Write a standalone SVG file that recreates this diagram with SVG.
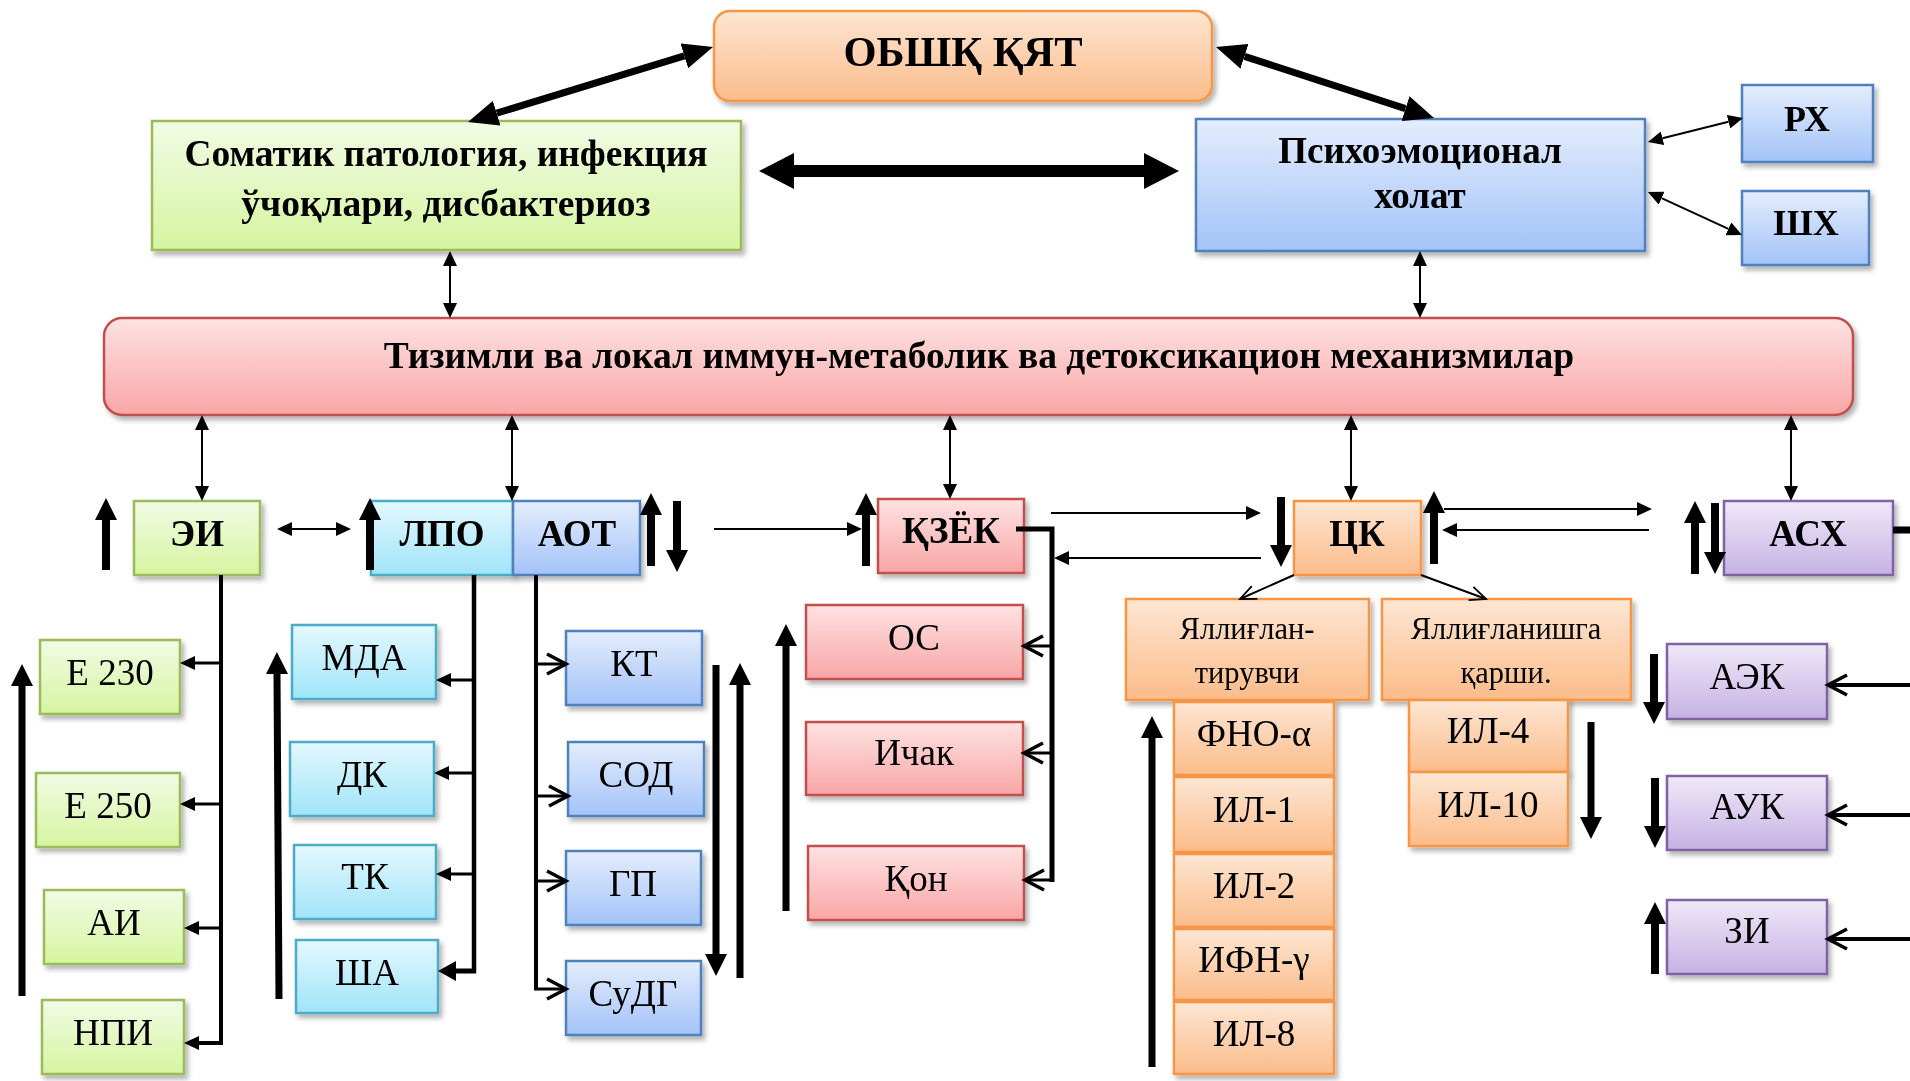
<svg xmlns="http://www.w3.org/2000/svg" width="1910" height="1081" viewBox="0 0 1910 1081">
<defs>
<style>
.t{font-family:"Liberation Serif","Times New Roman",serif;fill:#000;text-anchor:middle}
.b{font-weight:bold}
.r36{font-size:37px}
.b37{font-size:37px;font-weight:bold}
.sm{font-size:30.5px}
.box{filter:url(#sh)}
.or{fill:url(#gO);stroke:#f79646;stroke-width:2.5}
.gr{fill:url(#gG);stroke:#9bbb59;stroke-width:2.5}
.bl{fill:url(#gB);stroke:#4f81bd;stroke-width:2.5}
.cy{fill:url(#gC);stroke:#4bacc6;stroke-width:2.5}
.pk{fill:url(#gP);stroke:#c0504d;stroke-width:2.5}
.pu{fill:url(#gU);stroke:#8064a2;stroke-width:2.5}
</style>
<filter id="sh" x="-10%" y="-10%" width="125%" height="130%"><feDropShadow dx="3" dy="4" stdDeviation="2.5" flood-color="#000" flood-opacity="0.3"/></filter>
<linearGradient id="gO" x1="0" y1="0" x2="0" y2="1"><stop offset="0" stop-color="#fde6d3"/><stop offset="1" stop-color="#fbbc8a"/></linearGradient>
<linearGradient id="gG" x1="0" y1="0" x2="0" y2="1"><stop offset="0" stop-color="#f2fbe5"/><stop offset="1" stop-color="#d5f5a0"/></linearGradient>
<linearGradient id="gB" x1="0" y1="0" x2="0" y2="1"><stop offset="0" stop-color="#e4edfd"/><stop offset="1" stop-color="#a3c3f8"/></linearGradient>
<linearGradient id="gC" x1="0" y1="0" x2="0" y2="1"><stop offset="0" stop-color="#e4f8fe"/><stop offset="1" stop-color="#a0e4f9"/></linearGradient>
<linearGradient id="gP" x1="0" y1="0" x2="0" y2="1"><stop offset="0" stop-color="#fee2e2"/><stop offset="1" stop-color="#f9a6a6"/></linearGradient>
<linearGradient id="gU" x1="0" y1="0" x2="0" y2="1"><stop offset="0" stop-color="#efe8f8"/><stop offset="1" stop-color="#c6b2e4"/></linearGradient>
<marker id="mT" markerUnits="userSpaceOnUse" orient="auto-start-reverse" markerWidth="15" markerHeight="14" viewBox="0 0 15 14" refX="0" refY="7"><path d="M0,0 L15,7 L0,14z" fill="#000"/></marker>
<marker id="mS" markerUnits="userSpaceOnUse" orient="auto-start-reverse" markerWidth="18" markerHeight="20" viewBox="0 0 18 20" refX="0" refY="10"><path d="M0,0 L18,10 L0,20z" fill="#000"/></marker>
<marker id="mB" markerUnits="userSpaceOnUse" orient="auto-start-reverse" markerWidth="22" markerHeight="22" viewBox="0 0 22 22" refX="0" refY="11"><path d="M0,0 L22,11 L0,22z" fill="#000"/></marker>
<marker id="mK" markerUnits="userSpaceOnUse" orient="auto-start-reverse" markerWidth="30" markerHeight="26" viewBox="0 0 30 26" refX="0" refY="13"><path d="M0,0 L30,13 L0,26z" fill="#000"/></marker>
<marker id="mH" markerUnits="userSpaceOnUse" orient="auto-start-reverse" markerWidth="35" markerHeight="36" viewBox="0 0 35 36" refX="0" refY="18"><path d="M0,0 L35,18 L0,36z" fill="#000"/></marker>
<marker id="mC" markerUnits="userSpaceOnUse" orient="auto" markerWidth="24" markerHeight="24" viewBox="0 0 24 24" refX="21" refY="12" overflow="visible"><path d="M2,2 L21,12 L2,22" fill="none" stroke="#000" stroke-width="3.5"/></marker>
<marker id="mCs" markerUnits="userSpaceOnUse" orient="auto" markerWidth="18" markerHeight="16" viewBox="0 0 18 16" refX="17" refY="8" overflow="visible"><path d="M1,1 L17,8 L1,15" fill="none" stroke="#000" stroke-width="1.8"/></marker>
</defs>
<rect width="1910" height="1081" fill="#fff"/>

<g id="n-obshk" class="box"><rect x="714" y="11" width="498" height="90" rx="16" class="or"/><text x="963" y="66" class="t b" font-size="42.5">ОБШҚ ҚЯТ</text></g>
<g id="n-somatic" class="box"><rect x="152" y="121" width="589" height="129" class="gr"/><text x="446" y="166" class="t b" font-size="37.5">Соматик патология, инфекция</text><text x="446" y="216" class="t b" font-size="37.5">ўчоқлари, дисбактериоз</text></g>
<g id="n-psycho" class="box"><rect x="1196" y="119" width="449" height="132" class="bl"/><text x="1420" y="163" class="t b" font-size="37">Психоэмоционал</text><text x="1420" y="208" class="t b" font-size="37">холат</text></g>
<g id="n-rx" class="box"><rect x="1742" y="85" width="131" height="77" class="bl"/><text x="1807" y="131" class="t b" font-size="36">РХ</text></g>
<g id="n-shx" class="box"><rect x="1742" y="191" width="127" height="74" class="bl"/><text x="1806" y="235" class="t b" font-size="36">ШХ</text></g>
<g id="n-system" class="box"><rect x="104" y="318" width="1749" height="97" rx="18" class="pk"/><text x="979" y="368" class="t b" font-size="37.5">Тизимли ва локал иммун-метаболик ва детоксикацион механизмилар</text></g>

<g id="n-ei" class="box"><rect x="134" y="501" width="126" height="74" class="gr"/><text x="197" y="546" class="t b37">ЭИ</text></g>
<g id="n-lpo" class="box"><rect x="371" y="501" width="142" height="74" class="cy"/><text x="442" y="546" class="t b37">ЛПО</text></g>
<g id="n-aot" class="box"><rect x="513" y="501" width="127" height="74" class="bl"/><text x="577" y="546" class="t b37">АОТ</text></g>
<g id="n-kzek" class="box"><rect x="878" y="499" width="146" height="74" class="pk"/><text x="951" y="543" class="t b37">ҚЗЁК</text></g>
<g id="n-ck" class="box"><rect x="1294" y="501" width="127" height="74" class="or"/><text x="1357" y="546" class="t b37">ЦК</text></g>
<g id="n-asx" class="box"><rect x="1724" y="501" width="169" height="74" class="pu"/><text x="1808" y="546" class="t b37">АСХ</text></g>

<g id="n-e230" class="box"><rect x="40" y="640" width="140" height="74" class="gr"/><text x="110" y="685" class="t r36">Е 230</text></g>
<g id="n-e250" class="box"><rect x="36" y="773" width="144" height="74" class="gr"/><text x="108" y="818" class="t r36">Е 250</text></g>
<g id="n-ai" class="box"><rect x="44" y="890" width="140" height="74" class="gr"/><text x="114" y="935" class="t r36">АИ</text></g>
<g id="n-npi" class="box"><rect x="42" y="1000" width="142" height="74" class="gr"/><text x="113" y="1045" class="t r36">НПИ</text></g>

<g id="n-mda" class="box"><rect x="292" y="625" width="144" height="74" class="cy"/><text x="364" y="670" class="t r36">МДА</text></g>
<g id="n-dk" class="box"><rect x="290" y="742" width="144" height="74" class="cy"/><text x="362" y="787" class="t r36">ДК</text></g>
<g id="n-tk" class="box"><rect x="294" y="845" width="142" height="74" class="cy"/><text x="365" y="889" class="t r36">ТК</text></g>
<g id="n-sha" class="box"><rect x="296" y="940" width="142" height="73" class="cy"/><text x="367" y="985" class="t r36">ША</text></g>

<g id="n-kt" class="box"><rect x="566" y="631" width="136" height="74" class="bl"/><text x="634" y="676" class="t r36">КТ</text></g>
<g id="n-sod" class="box"><rect x="568" y="742" width="136" height="74" class="bl"/><text x="636" y="787" class="t r36">СОД</text></g>
<g id="n-gp" class="box"><rect x="566" y="851" width="135" height="74" class="bl"/><text x="633" y="896" class="t r36">ГП</text></g>
<g id="n-sudg" class="box"><rect x="566" y="961" width="135" height="74" class="bl"/><text x="633" y="1006" class="t r36">СуДГ</text></g>

<g id="n-os" class="box"><rect x="806" y="605" width="217" height="74" class="pk"/><text x="914" y="650" class="t r36">ОС</text></g>
<g id="n-ichak" class="box"><rect x="806" y="722" width="217" height="73" class="pk"/><text x="914" y="765" class="t r36">Ичак</text></g>
<g id="n-kon" class="box"><rect x="808" y="846" width="216" height="74" class="pk"/><text x="916" y="891" class="t r36">Қон</text></g>

<g id="n-pro" class="box"><rect x="1126" y="599" width="243" height="101" class="or"/><text x="1247" y="639" class="t sm">Яллиғлан-</text><text x="1247" y="683" class="t sm">тирувчи</text></g>
<g id="n-anti" class="box"><rect x="1382" y="599" width="249" height="101" class="or"/><text x="1506" y="639" class="t sm">Яллиғланишга</text><text x="1506" y="683" class="t sm">қарши.</text></g>

<g id="n-tnf" class="box"><rect x="1174" y="702" width="160" height="73" class="or"/><text x="1254" y="746" class="t r36">ФНО-α</text></g>
<g id="n-il1" class="box"><rect x="1174" y="777" width="160" height="75" class="or"/><text x="1254" y="822" class="t r36">ИЛ-1</text></g>
<g id="n-il2" class="box"><rect x="1174" y="854" width="160" height="73" class="or"/><text x="1254" y="898" class="t r36">ИЛ-2</text></g>
<g id="n-ifn" class="box"><rect x="1174" y="929" width="160" height="71" class="or"/><text x="1254" y="972" class="t r36">ИФН-γ</text></g>
<g id="n-il8" class="box"><rect x="1174" y="1002" width="160" height="72" class="or"/><text x="1254" y="1046" class="t r36">ИЛ-8</text></g>

<g id="n-il4" class="box"><rect x="1409" y="700" width="159" height="72" class="or"/><text x="1488" y="743" class="t r36">ИЛ-4</text></g>
<g id="n-il10" class="box"><rect x="1409" y="772" width="159" height="74" class="or"/><text x="1488" y="817" class="t r36">ИЛ-10</text></g>

<g id="n-aek" class="box"><rect x="1667" y="644" width="160" height="75" class="pu"/><text x="1747" y="689" class="t r36">АЭК</text></g>
<g id="n-auk" class="box"><rect x="1667" y="776" width="160" height="74" class="pu"/><text x="1747" y="819" class="t r36">АУК</text></g>
<g id="n-zi" class="box"><rect x="1667" y="900" width="160" height="74" class="pu"/><text x="1747" y="943" class="t r36">ЗИ</text></g>

<g id="connectors" fill="none" stroke="#000">
  <line x1="684.3" y1="55.8" x2="496.7" y2="113.2" stroke-width="7" marker-start="url(#mK)" marker-end="url(#mK)"/>
  <line x1="1244.5" y1="56.3" x2="1405.5" y2="108.7" stroke-width="7" marker-start="url(#mK)" marker-end="url(#mK)"/>
  <line x1="794" y1="171" x2="1144" y2="171" stroke-width="12" marker-start="url(#mH)" marker-end="url(#mH)"/>
  <g stroke-width="2">
    <line x1="1662.5" y1="138.3" x2="1728.5" y2="121.7" marker-start="url(#mT)" marker-end="url(#mT)"/>
    <line x1="1661.6" y1="198.2" x2="1728.4" y2="228.8" marker-start="url(#mT)" marker-end="url(#mT)"/>
    <line x1="450" y1="266" x2="450" y2="303" marker-start="url(#mT)" marker-end="url(#mT)"/>
    <line x1="1420" y1="266" x2="1420" y2="303" marker-start="url(#mT)" marker-end="url(#mT)"/>
    <line x1="202" y1="430" x2="202" y2="486" marker-start="url(#mT)" marker-end="url(#mT)"/>
    <line x1="512" y1="430" x2="512" y2="486" marker-start="url(#mT)" marker-end="url(#mT)"/>
    <line x1="950" y1="430" x2="950" y2="484" marker-start="url(#mT)" marker-end="url(#mT)"/>
    <line x1="1351" y1="430" x2="1351" y2="486" marker-start="url(#mT)" marker-end="url(#mT)"/>
    <line x1="1791" y1="430" x2="1791" y2="486" marker-start="url(#mT)" marker-end="url(#mT)"/>
    <line x1="292" y1="529" x2="336" y2="529" marker-start="url(#mT)" marker-end="url(#mT)"/>
    <line x1="714" y1="529" x2="847" y2="529" marker-end="url(#mT)"/>
    <line x1="1051" y1="513" x2="1246" y2="513" marker-end="url(#mT)"/>
    <line x1="1261" y1="558" x2="1069" y2="558" marker-end="url(#mT)"/>
    <line x1="1444" y1="509" x2="1637" y2="509" marker-end="url(#mT)"/>
    <line x1="1649" y1="530" x2="1457" y2="530" marker-end="url(#mT)"/>
    <line x1="1294" y1="575" x2="1240" y2="599" marker-end="url(#mCs)"/>
    <line x1="1421" y1="575" x2="1486" y2="599" marker-end="url(#mCs)"/>
  </g>
  <g stroke-width="8">
    <line x1="106" y1="570" x2="106" y2="520" marker-end="url(#mB)"/>
    <line x1="370" y1="570" x2="370" y2="520" marker-end="url(#mB)"/>
    <line x1="651" y1="566" x2="651" y2="515" marker-end="url(#mB)"/>
    <line x1="677" y1="501" x2="677" y2="550" marker-end="url(#mB)"/>
    <line x1="866" y1="566" x2="866" y2="515" marker-end="url(#mB)"/>
    <line x1="1281" y1="497" x2="1281" y2="545" marker-end="url(#mB)"/>
    <line x1="1434" y1="564" x2="1434" y2="513" marker-end="url(#mB)"/>
    <line x1="1695" y1="574" x2="1695" y2="523" marker-end="url(#mB)"/>
    <line x1="1715" y1="503" x2="1715" y2="552" marker-end="url(#mB)"/>
    <line x1="1654" y1="654" x2="1654" y2="702" marker-end="url(#mB)"/>
    <line x1="1655" y1="778" x2="1655" y2="826" marker-end="url(#mB)"/>
    <line x1="1655" y1="974" x2="1655" y2="924" marker-end="url(#mB)"/>
  </g>
  <g stroke-width="7">
    <line x1="22" y1="996" x2="22" y2="686" marker-end="url(#mB)"/>
    <line x1="279" y1="999" x2="277" y2="674" marker-end="url(#mB)"/>
    <line x1="716" y1="665" x2="716" y2="954" marker-end="url(#mB)"/>
    <line x1="740" y1="978" x2="740" y2="685" marker-end="url(#mB)"/>
    <line x1="786" y1="911" x2="786" y2="646" marker-end="url(#mB)"/>
    <line x1="1152" y1="1067" x2="1152" y2="738" marker-end="url(#mB)"/>
    <line x1="1591" y1="722" x2="1591" y2="817" marker-end="url(#mB)"/>
  </g>
  <g stroke-width="4">
    <line x1="221" y1="575" x2="221" y2="1045"/>
    <line x1="221" y1="663" x2="195" y2="663" stroke-width="3" marker-end="url(#mT)"/>
    <line x1="221" y1="804" x2="195" y2="804" stroke-width="3" marker-end="url(#mT)"/>
    <line x1="221" y1="928" x2="199" y2="928" stroke-width="3" marker-end="url(#mT)"/>
    <line x1="223" y1="1043" x2="199" y2="1043" marker-end="url(#mT)"/>
    <line x1="474" y1="575" x2="474" y2="973" stroke-width="4.5"/>
    <line x1="474" y1="680" x2="451" y2="680" stroke-width="3" marker-end="url(#mT)"/>
    <line x1="474" y1="773" x2="449" y2="773" stroke-width="3" marker-end="url(#mT)"/>
    <line x1="474" y1="874" x2="451" y2="874" stroke-width="3" marker-end="url(#mT)"/>
    <line x1="476" y1="971" x2="456" y2="971" stroke-width="5" marker-end="url(#mS)"/>
    <line x1="536" y1="575" x2="536" y2="989"/>
    <line x1="536" y1="664" x2="566" y2="664" stroke-width="3" marker-end="url(#mC)"/>
    <line x1="536" y1="796" x2="568" y2="796" stroke-width="3" marker-end="url(#mC)"/>
    <line x1="536" y1="881" x2="566" y2="881" stroke-width="3" marker-end="url(#mC)"/>
    <line x1="534" y1="989" x2="566" y2="989" stroke-width="3" marker-end="url(#mC)"/>
    <path d="M1016,529 H1052 V882" stroke-width="5"/>
    <line x1="1052" y1="646" x2="1024" y2="646" stroke-width="3" marker-end="url(#mC)"/>
    <line x1="1052" y1="753" x2="1024" y2="753" stroke-width="3" marker-end="url(#mC)"/>
    <line x1="1052" y1="880" x2="1025" y2="880" stroke-width="3" marker-end="url(#mC)"/>
    <line x1="1893" y1="530" x2="1910" y2="530" stroke-width="7"/>
    <line x1="1910" y1="685" x2="1828" y2="685" marker-end="url(#mC)"/>
    <line x1="1910" y1="815" x2="1828" y2="815" marker-end="url(#mC)"/>
    <line x1="1910" y1="939" x2="1828" y2="939" marker-end="url(#mC)"/>
  </g>
</g>
</svg>
